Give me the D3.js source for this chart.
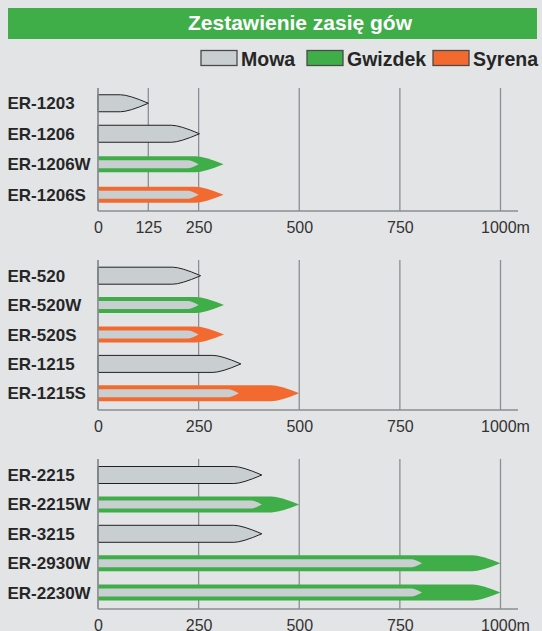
<!DOCTYPE html>
<html lang="pl">
  <head>
    <title>Zestawienie zasięgów</title>
    <meta charset="UTF-8">
    <script src="https://d3js.org/d3.v7.min.js"></script>
    <style>
      * {
        margin: 0;
        padding: 0;
      }
      body {
        background-color: #e3e4e6;
      }
      svg {
        display: block;
        font-family: 'Liberation Sans', Arial, Helvetica, sans-serif;
      }
    </style>
  </head>
  <body>
    <script>
      // dane (metry)
      const models1 = ["ER-1203", "ER-1206", "ER-1206W", "ER-1206S"]
      const mowa1 = [125, 252, 250, 250]
      const gwizdek1 = [null, null, 312, null]
      const syrena1 = [null, null, null, 312]
      const ticks1 = [0, 125, 250, 500, 750, 1000]

      const models2 = ["ER-520", "ER-520W", "ER-520S", "ER-1215", "ER-1215S"]
      const mowa2 = [255, 250, 250, 355, 350]
      const gwizdek2 = [null, 313, null, null, null]
      const syrena2 = [null, null, 313, null, 500]
      const ticks2 = [0, 250, 500, 750, 1000]

      const models3 = ["ER-2215", "ER-2215W", "ER-3215", "ER-2930W", "ER-2230W"]
      const mowa3 = [407, 407, 407, 805, 805]
      const gwizdek3 = [null, 500, null, 1000, 1000]
      const syrena3 = [null, null, null, null, null]
      const ticks3 = [0, 250, 500, 750, 1000]

      const legendNames = ["Mowa", "Gwizdek", "Syrena"]

      const width = 542
      const height = 631
      const colors = { Mowa: "#c9ced1", Gwizdek: "#3fae49", Syrena: "#f26a2f" }
      const gridColor = "#8b8e92"
      const textColor = "#262626"

      const panels = [
        { models: models1, mowa: mowa1, gwizdek: gwizdek1, syrena: syrena1, ticks: ticks1, top: 88, axis: 211, band: [88, 210] },
        { models: models2, mowa: mowa2, gwizdek: gwizdek2, syrena: syrena2, ticks: ticks2, top: 260, axis: 410, band: [261, 408] },
        { models: models3, mowa: mowa3, gwizdek: gwizdek3, syrena: syrena3, ticks: ticks3, top: 459, axis: 609, band: [460.3, 607.3] }
      ]

      const x = d3.scaleLinear().domain([0, 1000]).range([98, 500.5])

      const svg = d3.select("body")
                    .append("svg")
                    .attr("width", width)
                    .attr("height", height)

      // tytul
      svg.append("rect")
         .attr("x", 8).attr("y", 8)
         .attr("width", 529).attr("height", 31)
         .attr("fill", colors.Gwizdek)
      svg.append("text")
         .text("Zestawienie zasię gów")
         .attr("x", 300).attr("y", 29.5)
         .attr("text-anchor", "middle")
         .attr("fill", "white")
         .style("font-size", "21px")
         .style("font-weight", "bold")

      // legenda
      const legendX = [201, 307, 433]
      legendNames.forEach((name, i) => {
        svg.append("rect")
           .attr("x", legendX[i]).attr("y", 50.5)
           .attr("width", 36).attr("height", 15)
           .attr("fill", colors[name])
           .attr("stroke", "#4a4a4a")
           .attr("stroke-width", 1.3)
        svg.append("text")
           .text(name)
           .attr("x", legendX[i] + 40).attr("y", 65.5)
           .attr("fill", textColor)
           .style("font-size", "19.5px")
           .style("font-weight", "bold")
      })

      // ksztalt "pocisku": prostokat z zaostrzonym koncem
      function bullet(x0, x1, yc, h, nose) {
        const t = yc - h / 2, b = yc + h / 2
        const s = Math.max(x0, x1 - nose)
        const c = s + (x1 - s) * 0.3
        return "M" + x0 + "," + t + "L" + s + "," + t +
               "Q" + c + "," + t + " " + x1 + "," + yc +
               "Q" + c + "," + b + " " + s + "," + b +
               "L" + x0 + "," + b + "Z"
      }

      panels.forEach((p) => {
        const y = d3.scaleBand().domain(p.models).range(p.band)
        const g = svg.append("g")

        // linie siatki
        g.selectAll(".grid")
         .data(p.ticks)
         .enter()
         .append("line")
         .attr("x1", (d) => x(d)).attr("x2", (d) => x(d))
         .attr("y1", p.top).attr("y2", p.axis)
         .attr("stroke", gridColor)
         .attr("stroke-width", 1.3)

        p.models.forEach((m, i) => {
          const yc = y(m) + y.bandwidth() / 2
          const sig = p.gwizdek[i] != null ? "Gwizdek" : (p.syrena[i] != null ? "Syrena" : null)
          if (sig) {
            const v = sig == "Gwizdek" ? p.gwizdek[i] : p.syrena[i]
            g.append("path")
             .attr("d", bullet(x(0), x(v), yc, 16, 28))
             .attr("fill", colors[sig])
            g.append("path")
             .attr("d", bullet(x(0), x(p.mowa[i]), yc, 8, 10.5))
             .attr("fill", colors.Mowa)
          } else {
            g.append("path")
             .attr("d", bullet(x(0), x(p.mowa[i]), yc, 17, 28))
             .attr("fill", colors.Mowa)
             .attr("stroke", "#222")
             .attr("stroke-width", 1)
          }
          g.append("text")
           .text(m)
           .attr("x", 7.5).attr("y", yc + 6)
           .attr("fill", textColor)
           .style("font-size", "17px")
           .style("font-weight", "bold")
        })

        // osie
        g.append("line")
         .attr("x1", x(0)).attr("x2", x(0))
         .attr("y1", p.top).attr("y2", p.axis)
         .attr("stroke", gridColor)
         .attr("stroke-width", 1.5)
        g.append("line")
         .attr("x1", x(0)).attr("x2", 518)
         .attr("y1", p.axis).attr("y2", p.axis)
         .attr("stroke", gridColor)
         .attr("stroke-width", 1.5)

        const axis = g.append("g")
                      .attr("transform", "translate(0," + p.axis + ")")
                      .call(d3.axisBottom(x).tickValues(p.ticks).tickSize(0).tickPadding(11))
        axis.select(".domain").remove()
        axis.selectAll("text")
            .attr("fill", "#333")
            .style("font-size", "16px")
            .style("font-family", "'Liberation Sans', Arial, sans-serif")
        axis.selectAll("text")
            .filter((d) => d == 1000)
            .each(function () {
              const w = this.getComputedTextLength()
              d3.select(this)
                .text("1000m")
                .attr("text-anchor", "start")
                .attr("x", -w / 2)
            })
      })
    </script>
  </body>
</html>
